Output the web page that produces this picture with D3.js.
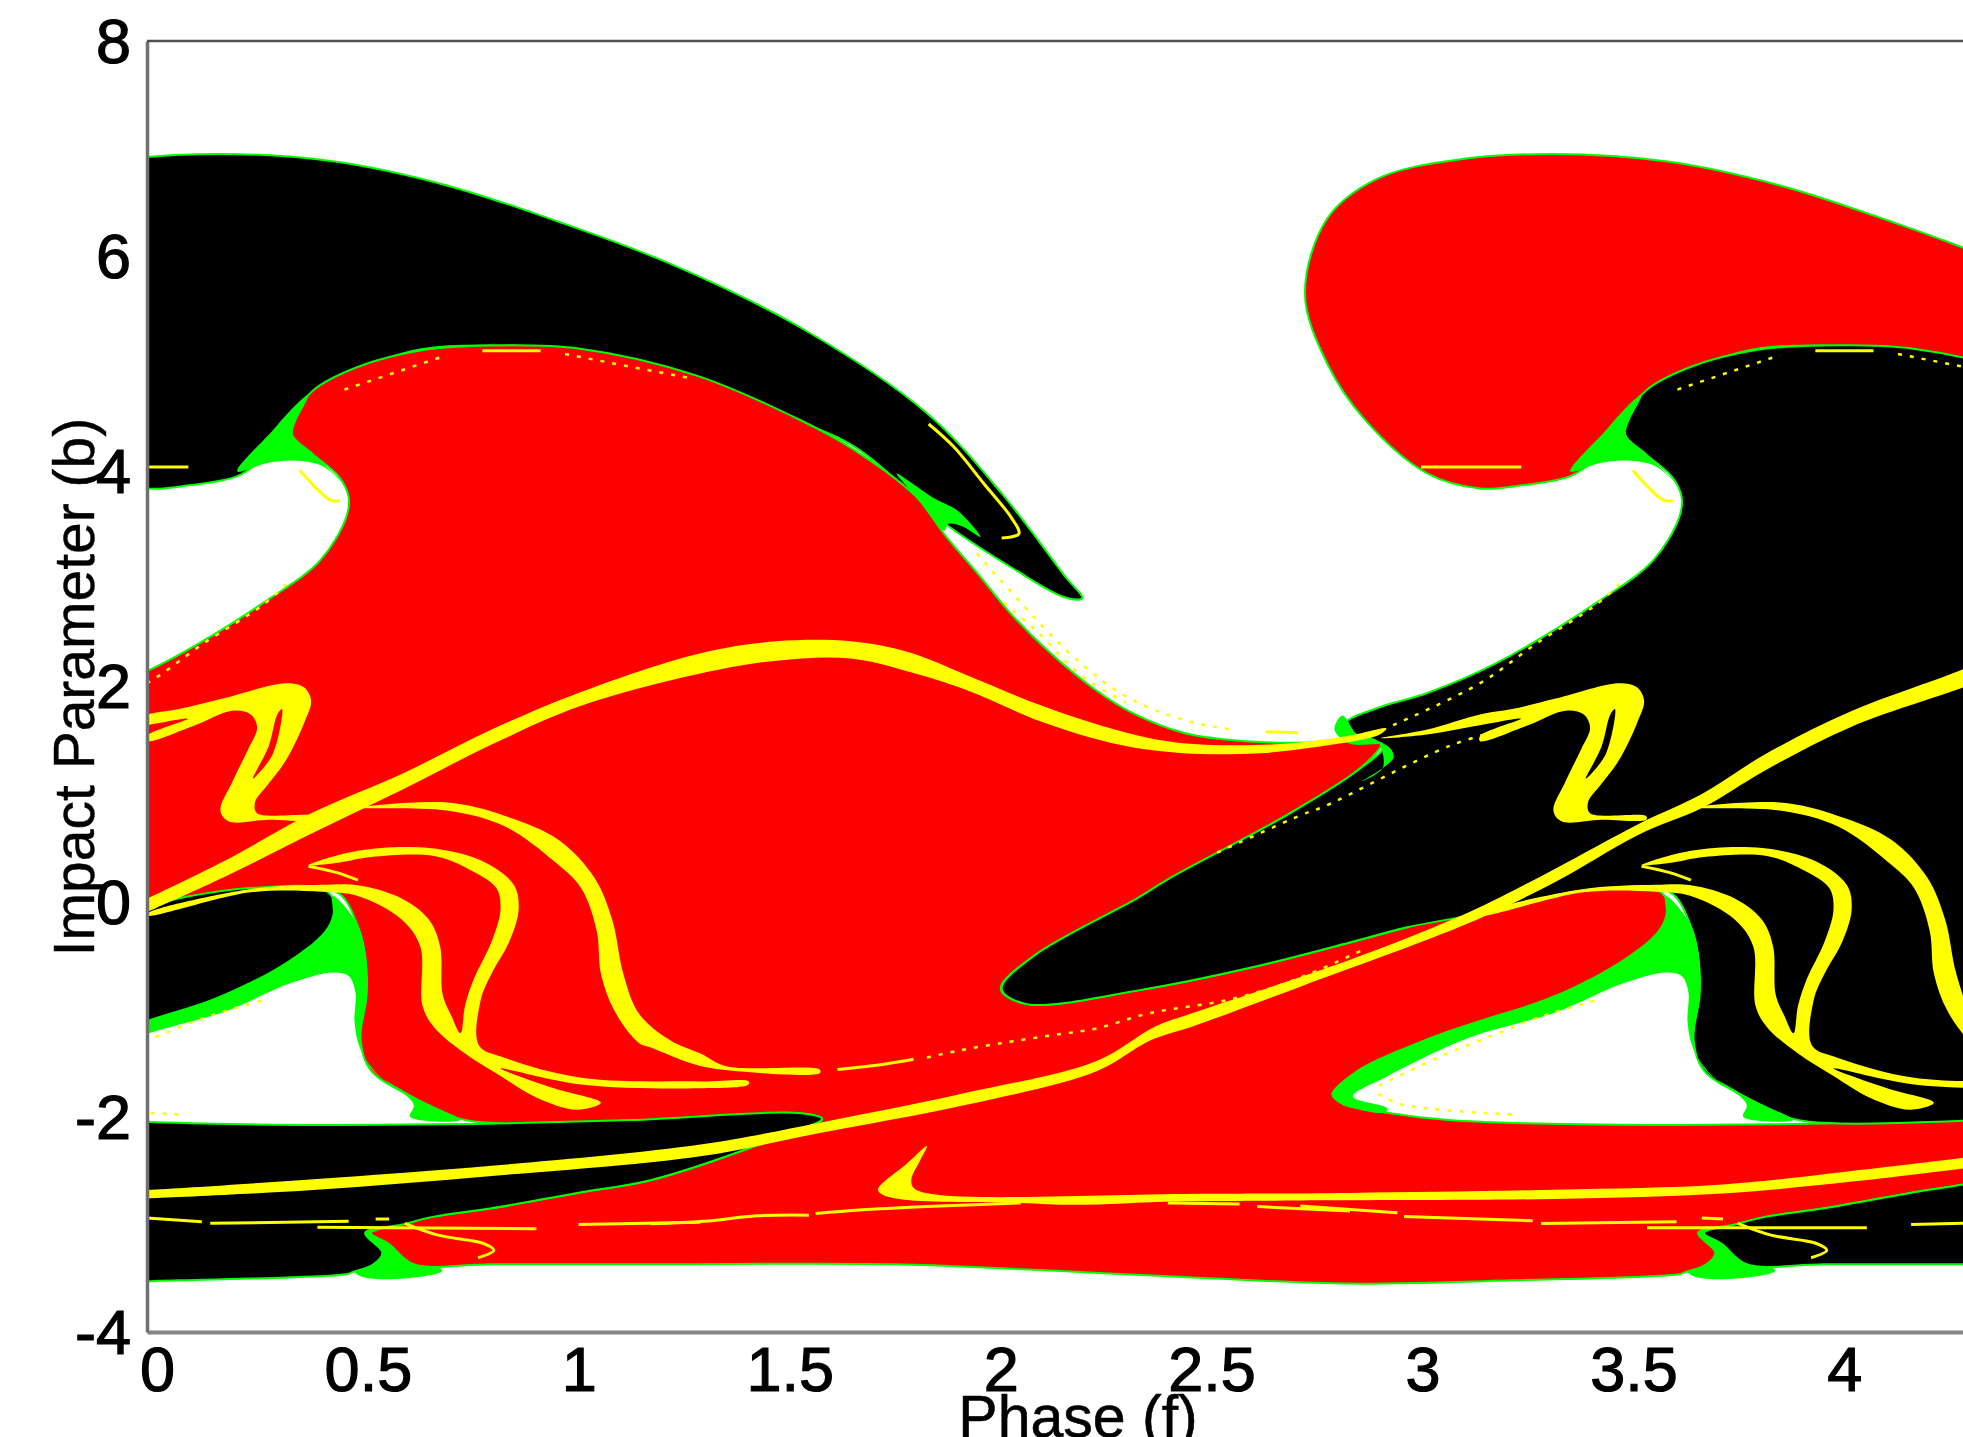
<!DOCTYPE html>
<html>
<head>
<meta charset="utf-8">
<script src="https://d3js.org/d3.v7.min.js"></script>
<style>
  html, body { margin: 0; padding: 0; background: #fff; overflow: hidden; }
</style>
</head>
<body>
<div id="chart"></div>
<script>
// axis ticks
var phaseTicks = [0, 0.5, 1, 1.5, 2, 2.5, 3, 3.5, 4];
var impactTicks = [-4, -2, 0, 2, 4, 6, 8];

// the pattern repeats in phase with the two exits swapped
var phaseShift = 3.16;

// exit basins, as [phase, impact parameter]
var basinBody = [[-1.134,-.81],[-1.056,-.50],[-.813,.03],[-.739,.21],[-.46,.80],[-.297,1.20],[-.228,1.45],[-.297,1.54],[-.318,1.66],[-.243,1.80],[-.125,1.94],[.035,2.21],[.288,2.81],[.41,3.17],[.472,3.57],[.478,3.76],[.457,3.94],[.393,4.16],[.344,4.34],[.352,4.53],[.393,4.75],[.499,4.97],[.658,5.13],[.816,5.17],[1.027,5.14],[1.303,4.89],[1.552,4.47],[1.668,4.22],[1.822,3.77],[1.895,3.39],[1.967,3.06],[2.047,2.68],[2.139,2.32],[2.248,1.97],[2.338,1.75],[2.457,1.57],[2.576,1.50],[2.755,1.48],[2.857,1.52],[2.932,1.51],[2.923,1.43],[2.863,1.20],[2.70,.80],[2.421,.19],[2.347,.01],[2.104,-.50],[2.024,-.81],[2.083,-.95],[2.356,-.82],[2.62,-.61],[2.852,-.38],[2.985,-.24],[3.234,.03],[3.415,.13],[3.585,.10],[3.611,-.12],[3.576,-.37],[3.504,-.61],[3.335,-.89],[3.036,-1.31],[2.864,-1.61],[2.81,-1.79],[2.834,-1.88],[2.935,-1.96],[3.085,-2.03],[3.395,-2.07],[3.837,-2.07],[4.306,-2.03],[4.703,-1.965],[4.76,-2.02],[4.67,-2.17],[4.353,-2.59],[4.189,-2.70],[3.977,-2.85],[3.837,-2.93],[3.766,-3.0],[3.677,-3.08],[3.718,-3.26],[3.697,-3.37],[3.649,-3.44],[3.635,-3.46],[3.234,-3.52],[2.852,-3.55],[2.516,-3.50],[2.306,-3.46],[2.039,-3.41],[1.774,-3.37],[1.193,-3.37],[.816,-3.37],[.632,-3.37],[.573,-3.18],[.531,-3.08],[.605,-3.0],[.677,-2.93],[.817,-2.85],[1.029,-2.70],[1.193,-2.59],[1.51,-2.17],[1.601,-2.02],[1.543,-1.965],[1.312,-2.01],[.84,-2.06],[.733,-2.01],[.626,-1.81],[.531,-1.57],[.507,-1.31],[.519,-.57],[.499,-.22],[.457,.07],[.393,.13],[.234,.10],[0,-.11],[-.175,-.24],[-.309,-.38],[-.54,-.61],[-.804,-.82],[-1.077,-.95]];
var basinLobe = [[-.415,5.65],[-.362,6.35],[-.243,6.72],[-.065,6.89],[.172,6.95],[.445,6.88],[.709,6.66],[.976,6.32],[1.24,5.93],[1.552,5.33],[1.849,4.54],[2.027,3.79],[2.175,3.03],[2.217,2.82],[2.175,2.83],[2.056,3.09],[1.893,3.51],[1.668,4.25],[1.433,4.6],[1.196,4.95],[1.018,5.12],[.81,5.17],[.632,5.12],[.454,4.85],[.38,4.66],[.344,4.37],[.291,4.17],[.217,3.96],[.098,3.87],[0,3.84],[-.125,3.98],[-.273,4.48],[-.362,5.0]];

// green wedges where the basins pinch
var wedgeNeck = [[.214,4.0],[.298,4.38],[.341,4.57],[.383,4.71],[.346,4.34],[.393,4.16],[.463,3.90],[.415,4.05],[.35,4.10],[.288,4.08]];
var wedgeTip = [[1.777,3.98],[1.822,3.77],[1.89,3.45],[1.899,3.51],[1.932,3.49],[1.976,3.39],[1.923,3.63],[1.866,3.75]];
var wedgeHole = [[.44,.052],[.44,-.12],[.42,-.28],[.33,-.56],[.17,-.88],[0,-1.1],[-.125,-1.27],[-.297,-1.58],[-.35,-1.79],[-.326,-1.88],[-.225,-1.96],[-.22,-1.92],[-.301,-1.81],[-.226,-1.636],[-.025,-1.263],[.182,-1.025],[.341,-.757],[.441,-.658],[.478,-.69],[.494,-.84],[.492,-1.114],[.505,-1.363],[.542,-1.586],[.632,-1.884],[.624,-2.0],[.743,-2.03],[.669,-1.884],[.605,-1.75],[.533,-1.56],[.508,-1.313],[.523,-.866],[.521,-.568],[.5,-.22]];
var wedgeFoot = [[.50,-3.02],[.64,-3.30],[.70,-3.43],[.50,-3.47],[.47,-3.2]];
var wedgeNotch = [[2.834,1.73],[2.815,1.60],[2.85,1.47],[2.94,1.45],[2.955,1.34],[2.88,1.12],[2.93,1.25],[2.915,1.50],[2.87,1.55]];

// thick yellow bands that run across the whole picture
var bandArch = [[-.06,-.08],[0,.027],[.182,.375],[.394,.83],[.605,1.19],[.817,1.60],[1.029,1.95],[1.312,2.31],[1.493,2.42],[1.668,2.42],[1.804,2.32],[1.941,2.11],[2.122,1.82],[2.303,1.59],[2.439,1.48],[2.665,1.46],[2.846,1.54],[2.938,1.61],[2.92,1.55],[2.757,1.43],[2.638,1.38],[2.457,1.38],[2.303,1.46],[2.122,1.67],[1.941,1.97],[1.804,2.14],[1.668,2.26],[1.493,2.24],[1.312,2.12],[1.029,1.82],[.817,1.46],[.605,1.04],[.394,.64],[.182,.226],[0,-.097],[-.06,-.2]];
var bandRising = [[-.06,-2.69],[0,-2.68],[.394,-2.58],[.817,-2.455],[1.312,-2.257],[1.595,-2.054],[1.934,-1.783],[2.251,-1.48],[2.389,-1.162],[2.479,-1.035],[2.852,-.541],[3.135,-.097],[3.335,.30],[3.536,.723],[3.686,1.0],[3.836,1.37],[4.037,1.765],[4.305,2.16],[4.4,2.33],[4.4,2.13],[4.305,1.99],[4.037,1.62],[3.836,1.22],[3.686,.87],[3.536,.623],[3.335,.176],[3.135,-.196],[2.734,-.79],[2.479,-1.16],[2.378,-1.29],[2.251,-1.576],[1.934,-1.895],[1.595,-2.15],[1.312,-2.366],[.817,-2.55],[.394,-2.68],[0,-2.76],[-.06,-2.77]];
var bandFlat = [[1.849,-2.271],[1.833,-2.404],[1.812,-2.58],[1.817,-2.659],[1.87,-2.723],[2.505,-2.716],[2.852,-2.707],[3.335,-2.678],[3.736,-2.629],[4.037,-2.505],[4.305,-2.38],[4.4,-2.33],[4.4,-2.43],[4.305,-2.48],[4.037,-2.604],[3.736,-2.713],[3.335,-2.763],[2.734,-2.778],[2.442,-2.787],[2.198,-2.818],[2.071,-2.8],[1.796,-2.771],[1.743,-2.723],[1.733,-2.675],[1.801,-2.436]];

// yellow shapes of the left half, repeated one shift further on
var sCurve = [[-.236,1.52],[-.125,1.60],[0,1.74],[.076,1.79],[.182,1.89],[.33,2.03],[.373,1.99],[.389,1.865],[.373,1.666],[.33,1.318],[.288,1.095],[.256,.921],[.261,.822],[.394,.797],[.394,.762],[.288,.762],[.193,.747],[.174,.847],[.203,1.12],[.24,1.418],[.261,1.616],[.246,1.74],[.203,1.775],[.108,1.63],[0,1.492],[0,1.54],[.097,1.70],[0,1.64],[-.125,1.555]];
var sCurveSlit = [[.32,1.79],[.298,1.37],[.251,1.145],[.288,1.44],[.309,1.74]];
var loopOuter = [[.5,.872],[.711,.921],[.849,.797],[.976,.574],[1.06,.226],[1.103,-.171],[1.129,-.668],[1.166,-1.04],[1.24,-1.288],[1.312,-1.412],[1.373,-1.529],[1.595,-1.56],[1.595,-1.592],[1.383,-1.57],[1.299,-1.513],[1.193,-1.353],[1.166,-1.313],[1.108,-1.015],[1.076,-.668],[1.066,-.27],[1.029,.127],[.965,.375],[.849,.698],[.711,.847]];
var loopInner = [[.383,.34],[.5,.474],[.669,.499],[.796,.375],[.87,.152],[.881,-.072],[.859,-.37],[.817,-.668],[.791,-.916],[.787,-1.338],[.849,-1.452],[1.029,-1.636],[1.312,-1.671],[1.426,-1.67],[1.426,-1.70],[1.312,-1.735],[1.029,-1.70],[.838,-1.551],[.965,-1.735],[1.076,-1.869],[1.018,-1.934],[.923,-1.82],[.838,-1.621],[.754,-1.412],[.68,-1.164],[.653,-.966],[.648,-.42],[.605,-.171],[.5,.052],[.415,.092],[.246,.087],[0,-.131],[0,-.112],[.246,.117],[.415,.157],[.5,.152],[.605,.027],[.669,-.171],[.695,-.42],[.701,-.866],[.722,-1.065],[.743,-1.224],[.754,-.966],[.775,-.717],[.817,-.37],[.838,-.072],[.828,.127],[.764,.30],[.68,.425],[.531,.415],[.457,.365]];

// thin solid yellow traces of the left half
var traceLines = [
  [[.383,.33],[.45,.27],[.5,.2]],
  [[1.637,-1.56],[1.743,-1.513],[1.817,-1.465]],
  [[.611,-2.99],[.69,-3.10],[.796,-3.175],[.822,-3.24],[.785,-3.31]],
  [[1.853,4.44],[1.912,4.23],[1.985,3.88],[2.049,3.57],[2.067,3.42],[2.026,3.38]],
  [[.362,4.01],[.436,3.73],[.457,3.73]],
  [[-.14,4.04],[.098,4.04]],
  [[.795,5.12],[.933,5.12]],
  [[2.652,1.58],[2.729,1.57]]
];

// dotted yellow traces of the left half
var dottedLines = [
  [[-.623,.456],[-.421,.81],[-.368,.887],[-.071,1.45],[.055,1.6]],
  [[-.206,1.64],[0,2.03],[.134,2.4],[.275,2.76],[.33,2.95]],
  [[-.24,-1.71],[-.1,-1.45],[0,-1.29],[.15,-1.06],[.277,-.916]],
  [[-.241,-1.785],[-.186,-1.884],[.085,-1.98]],
  [[.468,4.76],[.711,5.08]],
  [[.991,5.09],[1.282,4.87]],
  [[1.967,3.24],[2.184,2.32],[2.32,1.91],[2.466,1.68],[2.574,1.60]],
  [[2.031,2.78],[2.113,2.50],[2.212,2.11],[2.32,1.85]],
  [[1.849,-1.449],[1.923,-1.385],[2.04,-1.306],[2.145,-1.242],[2.251,-1.178],[2.378,-1.035],[2.569,-.908],[2.727,-.717],[2.884,-.444]]
];

// broken near horizontal yellow lines, drawn once only
var flatDashes = [
  [[0,-2.94],[.13,-2.975]],
  [[.15,-2.99],[.478,-2.97]],
  [[.542,-2.95],[.574,-2.95]],
  [[.404,-3.027],[.923,-3.04]],
  [[1.023,-3.0],[1.312,-2.98]],
  [[1.193,-2.994],[1.32,-2.971],[1.447,-2.92],[1.569,-2.914]],
  [[1.585,-2.898],[1.69,-2.866],[1.849,-2.834],[2.071,-2.8]],
  [[2.42,-2.8],[2.59,-2.81]],
  [[2.632,-2.834],[2.852,-2.876]],
  [[2.734,-2.828],[2.964,-2.892]],
  [[2.98,-2.927],[3.285,-2.966]],
  [[3.305,-2.991],[3.626,-2.976]],
  [[3.686,-2.94],[3.736,-2.95]],
  [[3.556,-3.031],[4.077,-3.031]],
  [[4.182,-3.0],[4.305,-2.99]]
];

var svgWidth = 1963, svgHeight = 1437;
var margin = {top: 41, left: 147, bottom: 105};

var RED = "#ff0000", BLACK = "#000000", GREEN = "#00ff00", YELLOW = "#ffff00";

var svg = d3.select("#chart").append("svg")
  .attr("width", svgWidth)
  .attr("height", svgHeight)
  .style("display", "block");

var xScale = d3.scaleLinear().domain([0, 4.305]).range([margin.left, svgWidth]);
var yScale = d3.scaleLinear().domain([-4, 8]).range([svgHeight - margin.bottom, margin.top]);

svg.append("defs").append("clipPath").attr("id", "plot-clip")
  .append("rect")
  .attr("x", margin.left)
  .attr("y", margin.top)
  .attr("width", svgWidth - margin.left)
  .attr("height", svgHeight - margin.bottom - margin.top);

var plot = svg.append("g").attr("clip-path", "url(#plot-clip)");

function shapePath(points, shift) {
  return d3.line()
    .x(function(d) { return xScale(d[0] + shift); })
    .y(function(d) { return yScale(d[1]); })
    .curve(d3.curveCatmullRomClosed.alpha(0.5))(points);
}

function tracePath(points, shift) {
  return d3.line()
    .x(function(d) { return xScale(d[0] + shift); })
    .y(function(d) { return yScale(d[1]); })
    .curve(d3.curveCatmullRom.alpha(0.5))(points);
}

function drawBasin(points, fill, shift) {
  plot.append("path")
    .attr("d", shapePath(points, shift))
    .attr("fill", fill)
    .attr("stroke", GREEN)
    .attr("stroke-width", 2);
}

function drawFilled(rings, fill, shift) {
  plot.append("path")
    .attr("d", rings.map(function(r) { return shapePath(r, shift); }).join(" "))
    .attr("fill", fill)
    .attr("fill-rule", "evenodd");
}

function drawTrace(points, shift, dashed) {
  plot.append("path")
    .attr("d", tracePath(points, shift))
    .attr("fill", "none")
    .attr("stroke", YELLOW)
    .attr("stroke-width", dashed ? 2.5 : 3)
    .attr("stroke-dasharray", dashed ? "4,8" : null);
}

// the foot wedge goes under the basins, they cut it to shape
[0, phaseShift].forEach(function(shift) {
  drawFilled([wedgeFoot], GREEN, shift);
});

// basins
drawBasin(basinLobe, BLACK, 0);
drawBasin(basinLobe, RED, phaseShift);
drawBasin(basinBody, RED, 0);
drawBasin(basinBody, BLACK, phaseShift);
drawBasin(basinBody, BLACK, -phaseShift);

// green wedges and yellow features, one copy per half
[0, phaseShift].forEach(function(shift) {
  [wedgeNeck, wedgeTip, wedgeHole].forEach(function(w) {
    drawFilled([w], GREEN, shift);
  });
});
drawFilled([wedgeNotch], GREEN, 0);

[bandArch, bandRising, bandFlat].forEach(function(b) {
  drawFilled([b], YELLOW, 0);
});

[0, phaseShift].forEach(function(shift) {
  drawFilled([sCurve, sCurveSlit], YELLOW, shift);
  drawFilled([loopOuter], YELLOW, shift);
  drawFilled([loopInner], YELLOW, shift);
  traceLines.forEach(function(t) { drawTrace(t, shift, false); });
  dottedLines.forEach(function(t) { drawTrace(t, shift, true); });
});

flatDashes.forEach(function(t) { drawTrace(t, 0, false); });

// axes
var xAxis = svg.append("g")
  .attr("transform", "translate(0," + (svgHeight - margin.bottom) + ")")
  .call(d3.axisBottom(xScale).tickValues(phaseTicks).tickFormat(d3.format("")).tickSize(0).tickPadding(14));
var yAxis = svg.append("g")
  .attr("transform", "translate(" + margin.left + ",0)")
  .call(d3.axisLeft(yScale).tickValues(impactTicks).tickFormat(function(d) { return d < 0 ? "-" + Math.abs(d) : d; }).tickSize(0).tickPadding(16));

xAxis.select(".domain").attr("stroke", "#858585").attr("stroke-width", 4);
yAxis.select(".domain").attr("stroke", "#707070").attr("stroke-width", 3.5);

xAxis.selectAll("text")
  .attr("dx", 10)
  .style("font-family", "'Liberation Sans', Arial, sans-serif")
  .style("font-size", "63px")
  .attr("fill", "#000")
  .attr("stroke", "#000")
  .attr("stroke-width", 1.2);
yAxis.selectAll("text")
  .attr("dy", "0.34em")
  .style("font-family", "'Liberation Sans', Arial, sans-serif")
  .style("font-size", "63px")
  .attr("fill", "#000")
  .attr("stroke", "#000")
  .attr("stroke-width", 1.2);

// top border runs on past the right edge
svg.append("line")
  .attr("x1", margin.left).attr("x2", svgWidth)
  .attr("y1", margin.top).attr("y2", margin.top)
  .attr("stroke", "#505050").attr("stroke-width", 2.5);

svg.append("text")
  .attr("x", 1078)
  .attr("y", 1437)
  .attr("text-anchor", "middle")
  .style("font-family", "'Liberation Sans', Arial, sans-serif")
  .style("font-size", "59px")
  .attr("stroke", "#000")
  .attr("stroke-width", 0.6)
  .text("Phase (f)");

svg.append("text")
  .attr("transform", "translate(94,687) rotate(-90)")
  .attr("text-anchor", "middle")
  .style("font-family", "'Liberation Sans', Arial, sans-serif")
  .style("font-size", "57px")
  .attr("stroke", "#000")
  .attr("stroke-width", 0.4)
  .text("Impact Parameter (b)");
</script>
</body>
</html>
